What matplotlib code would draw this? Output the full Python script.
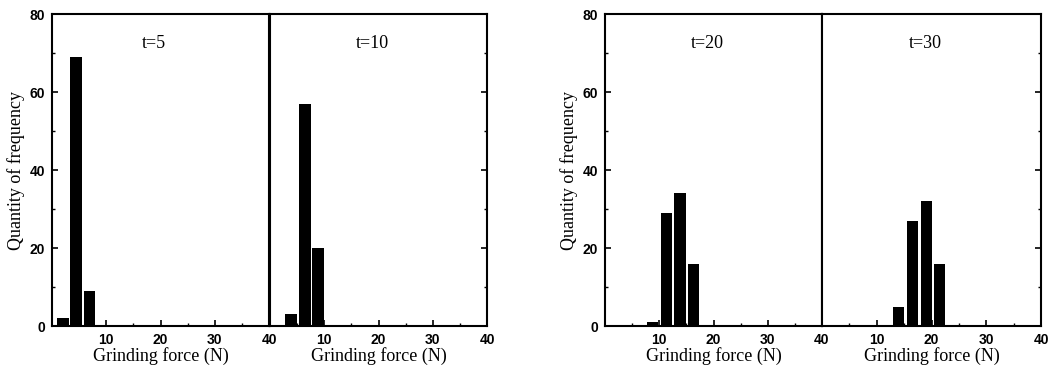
import matplotlib
matplotlib.use("Agg")
import matplotlib.pyplot as plt
from matplotlib.ticker import MultipleLocator, FixedLocator

# Data
t5_x = [2.0, 4.4, 6.9]
t5_y = [2, 69, 9]
t10_x = [3.9, 6.45, 8.85]
t10_y = [3, 57, 20]
t20_x = [8.75, 11.3, 13.8, 16.3]
t20_y = [1, 29, 34, 16]
t30_x = [13.95, 16.55, 19.1, 21.5]
t30_y = [5, 27, 32, 16]
panel_titles = ["t=5", "t=10", "t=20", "t=30"]
xtick_vals = [10, 20, 30, 40]
ytick_vals = [0, 20, 40, 60, 80]

series = [(t5_x, t5_y), (t10_x, t10_y), (t20_x, t20_y), (t30_x, t30_y)]

W, H = 1056, 379
fig = plt.figure(figsize=(W / 100, H / 100), dpi=100)

boxes = [(52, 269), (270, 487), (605, 822), (822, 1041)]
top_px, bot_px = 14, 326

tick_font = dict(family="Liberation Sans", weight="bold", size=10)
serif = "Liberation Serif"

for i, ((x0, x1), (xs, ys), title) in enumerate(zip(boxes, series, panel_titles)):
    ax = fig.add_axes([x0 / W, 1 - bot_px / H, (x1 - x0) / W, (bot_px - top_px) / H])
    ax.bar(xs, ys, width=2.1, color="black", edgecolor="none", linewidth=0)
    ax.set_xlim(0, 40)
    ax.set_ylim(0, 80)
    for s in ax.spines.values():
        s.set_linewidth(1.5)
    ax.xaxis.set_major_locator(FixedLocator(xtick_vals))
    ax.xaxis.set_minor_locator(FixedLocator([5, 15, 25, 35]))
    ax.yaxis.set_major_locator(FixedLocator(ytick_vals))
    ax.yaxis.set_minor_locator(MultipleLocator(10))
    first = i % 2 == 0
    ax.tick_params(axis="both", which="both", direction="in", top=False)
    ax.tick_params(axis="y", which="both", left=first, right=not first,
                   labelleft=first, labelright=False)
    ax.tick_params(axis="both", which="major", length=4, width=1.2, pad=5)
    ax.tick_params(axis="both", which="minor", length=2.5, width=1.0)
    ax.set_xticklabels([str(v) for v in xtick_vals], fontdict=tick_font)
    if first:
        ax.set_yticklabels([str(v) for v in ytick_vals], fontdict=tick_font)
        ax.set_ylabel("Quantity of frequency", family=serif, size=13, labelpad=3)
    ax.set_xlabel("Grinding force (N)", family=serif, size=13, labelpad=0)
    ax.text(0.47, 0.905, title, transform=ax.transAxes, ha="center", va="center",
            family=serif, size=13)

fig.savefig("out.png", dpi=100)
